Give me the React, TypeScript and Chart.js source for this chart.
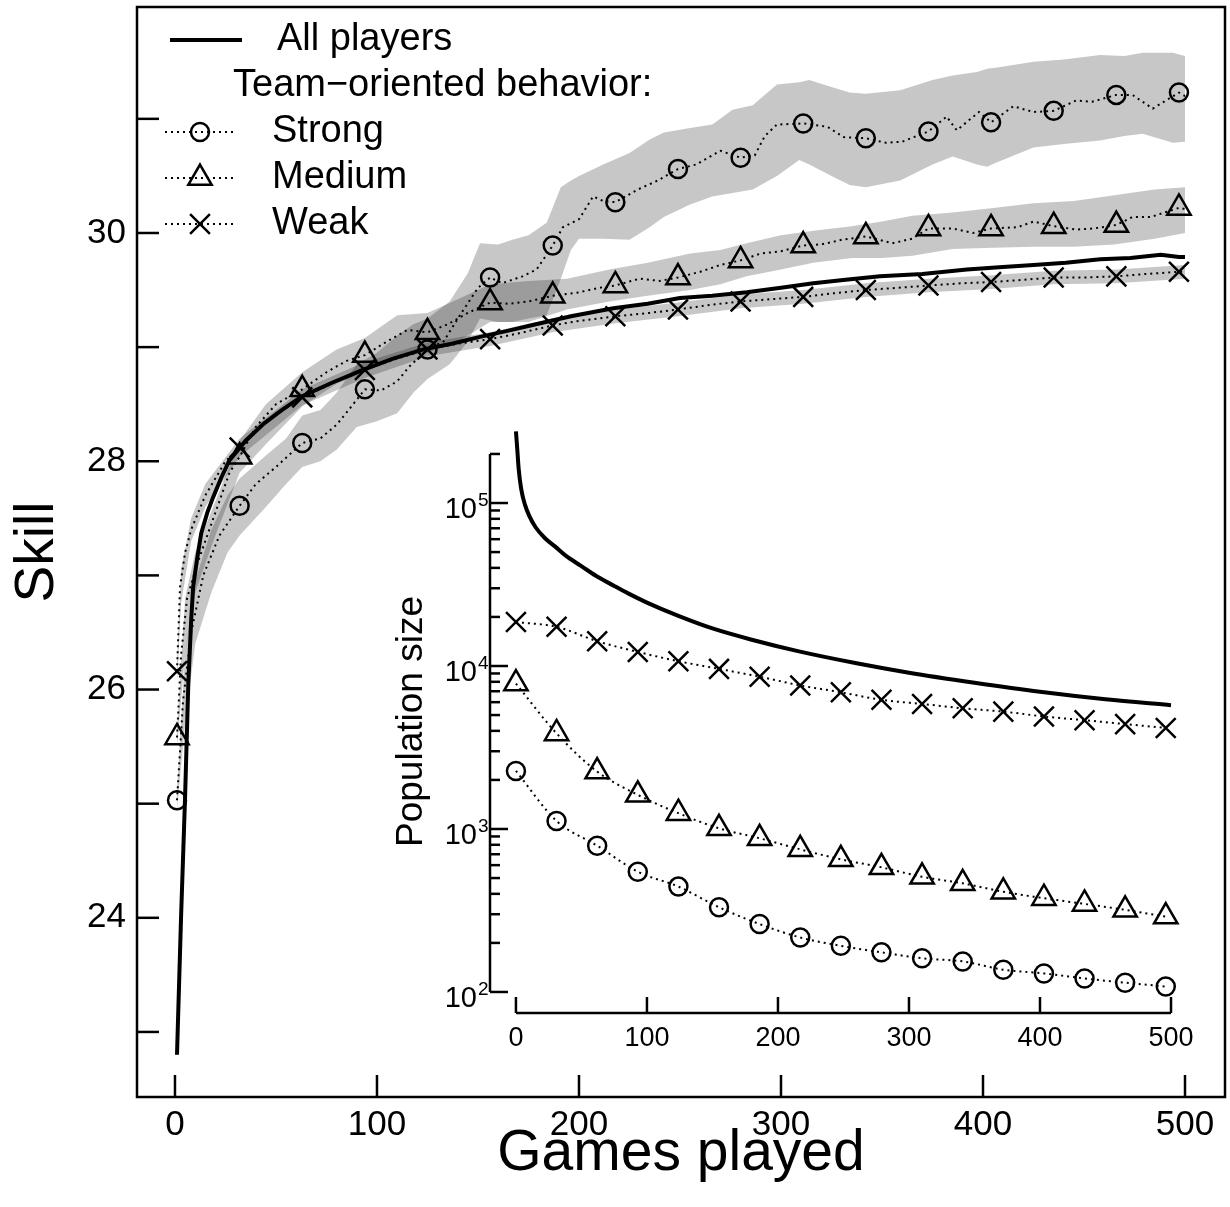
import React, { useEffect, useRef } from 'react';
import { Chart, registerables } from 'chart.js';

Chart.register(...registerables);

const FONT = '"Liberation Sans", Arial, Helvetica, sans-serif';
const BAND = 'rgba(0,0,0,0.22)';

// ---------------- main chart data ----------------
const mainXTicks = [0, 100, 200, 300, 400, 500];
const mainYTickMarks = [23, 24, 25, 26, 27, 28, 29, 30, 31];

const markerGames = [1, 32, 63, 94, 125, 156, 187, 218, 249, 280, 311, 342, 373, 404, 435, 466, 497];
const strongMarkers = [25.03, 27.61, 28.16, 28.63, 28.98, 29.61, 29.89, 30.27, 30.56, 30.66, 30.96, 30.83, 30.89, 30.97, 31.07, 31.21, 31.23];
const mediumMarkers = [25.58, 28.04, 28.63, 28.93, 29.13, 29.39, 29.45, 29.54, 29.61, 29.76, 29.89, 29.97, 30.04, 30.04, 30.06, 30.07, 30.22];
const weakMarkers = [26.16, 28.12, 28.56, 28.80, 28.98, 29.07, 29.19, 29.27, 29.33, 29.40, 29.44, 29.50, 29.54, 29.57, 29.61, 29.62, 29.66];

const allGames = [1, 3, 5, 6.6, 8, 9, 11, 13, 16, 19, 23, 27, 35, 44, 53, 63, 78, 93, 108, 123, 137, 151, 164, 176, 196, 217, 234, 250, 266, 283, 300, 316, 332, 349, 370, 392, 408, 425, 441, 458, 473, 488, 497, 500];
const allSkill = [22.8, 24.0, 25.06, 26.05, 26.6, 26.9, 27.15, 27.37, 27.55, 27.69, 27.86, 28.01, 28.18, 28.33, 28.45, 28.57, 28.69, 28.80, 28.90, 28.98, 29.03, 29.09, 29.14, 29.19, 29.27, 29.34, 29.38, 29.43, 29.45, 29.48, 29.52, 29.56, 29.59, 29.62, 29.64, 29.68, 29.70, 29.72, 29.74, 29.77, 29.78, 29.81, 29.79, 29.79];

const strongGames = [1, 4, 8, 14, 22, 32, 40, 50, 63, 72, 80, 86, 94, 102, 110, 116, 125, 133, 140, 150, 156, 162, 172, 179, 187, 192, 200, 207, 212, 218, 229, 239, 249, 258, 270, 280, 287, 292, 298, 311, 323, 331, 342, 352, 360, 373, 382, 387, 398, 404, 415, 425, 435, 446, 454, 466, 474, 484, 497, 500];
const strongSkill = [25.03, 25.9, 26.5, 27.0, 27.35, 27.61, 27.8, 27.95, 28.16, 28.2, 28.32, 28.45, 28.63, 28.62, 28.7, 28.83, 28.98, 29.05, 29.25, 29.52, 29.61, 29.56, 29.62, 29.68, 29.89, 30.05, 30.12, 30.32, 30.28, 30.27, 30.38, 30.46, 30.56, 30.6, 30.72, 30.66, 30.68, 30.85, 30.95, 30.96, 30.93, 30.84, 30.83, 30.79, 30.80, 30.89, 31.02, 30.9, 31.06, 30.97, 31.11, 31.06, 31.07, 31.16, 31.15, 31.21, 31.21, 31.09, 31.23, 31.2];

const mediumGames = [1, 3, 6, 11, 19, 27, 32, 40, 50, 63, 75, 85, 94, 105, 115, 125, 135, 145, 156, 165, 175, 187, 200, 210, 218, 230, 240, 249, 260, 270, 280, 290, 300, 311, 320, 330, 342, 355, 365, 373, 385, 395, 404, 417, 425, 435, 446, 455, 466, 474, 483, 497, 500];
const mediumSkill = [25.58, 26.3, 26.8, 27.1, 27.5, 27.9, 28.04, 28.3, 28.5, 28.63, 28.78, 28.88, 28.93, 29.05, 29.15, 29.13, 29.2, 29.3, 29.39, 29.38, 29.4, 29.45, 29.48, 29.52, 29.54, 29.6, 29.58, 29.61, 29.66, 29.72, 29.76, 29.82, 29.84, 29.89, 29.9, 29.94, 29.97, 29.91, 29.95, 30.04, 30.04, 30.0, 30.04, 30.05, 30.1, 30.06, 30.03, 30.04, 30.07, 30.14, 30.14, 30.22, 30.21];

const weakGames = [1, 2.5, 5, 8, 15, 25, 32, 45, 63, 80, 94, 110, 125, 140, 156, 170, 187, 200, 218, 235, 249, 265, 280, 295, 311, 325, 342, 358, 373, 390, 404, 420, 435, 450, 466, 480, 497, 500];
const weakSkill = [26.16, 26.9, 27.2, 27.4, 27.7, 28.0, 28.12, 28.35, 28.56, 28.7, 28.80, 28.9, 28.98, 29.03, 29.07, 29.12, 29.19, 29.23, 29.27, 29.3, 29.33, 29.37, 29.40, 29.42, 29.44, 29.47, 29.50, 29.52, 29.54, 29.56, 29.57, 29.59, 29.61, 29.61, 29.62, 29.64, 29.66, 29.66];

const strongBandGames = [1, 5, 10, 18, 26, 32, 45, 55, 63, 72, 80, 90, 100, 110, 118, 125, 136, 145, 151, 160, 167, 175, 184, 191, 196, 200, 212, 225, 235, 242, 255, 266, 276, 286, 298, 309, 314, 325, 334, 342, 359, 375, 385, 397, 402, 407, 425, 440, 458, 470, 479, 494, 500];
const strongBandUpper = [25.12, 26.3, 26.95, 27.4, 27.7, 27.85, 28.05, 28.2, 28.4, 28.45, 28.6, 28.85, 28.95, 29.1, 29.2, 29.25, 29.4, 29.65, 29.91, 29.9, 29.94, 29.98, 30.09, 30.40, 30.46, 30.5, 30.6, 30.7, 30.82, 30.88, 30.92, 30.95, 31.08, 31.12, 31.30, 31.32, 31.34, 31.28, 31.23, 31.22, 31.25, 31.34, 31.38, 31.41, 31.44, 31.45, 31.50, 31.52, 31.56, 31.55, 31.58, 31.58, 31.55];
const strongBandLower = [24.95, 25.7, 26.4, 26.85, 27.2, 27.35, 27.6, 27.8, 27.95, 28.0, 28.1, 28.3, 28.35, 28.42, 28.6, 28.72, 28.85, 29.05, 29.25, 29.22, 29.22, 29.25, 29.28, 29.6, 29.85, 29.95, 29.95, 29.94, 30.05, 30.14, 30.25, 30.32, 30.35, 30.38, 30.5, 30.64, 30.6, 30.5, 30.42, 30.40, 30.46, 30.6, 30.67, 30.6, 30.58, 30.62, 30.75, 30.78, 30.81, 30.85, 30.87, 30.79, 30.8];

const mediumBandGames = [1, 5, 10, 20, 32, 45, 63, 80, 94, 110, 125, 140, 156, 175, 194, 215, 234, 255, 270, 283, 300, 316, 335, 350, 365, 385, 405, 425, 445, 465, 485, 500];
const mediumBandUpper = [25.65, 26.8, 27.2, 27.65, 28.18, 28.5, 28.78, 28.98, 29.08, 29.28, 29.3, 29.42, 29.55, 29.58, 29.6, 29.68, 29.74, 29.82, 29.85, 29.91, 29.98, 30.02, 30.06, 30.1, 30.15, 30.18, 30.22, 30.26, 30.28, 30.33, 30.38, 30.4];
const mediumBandLower = [25.5, 26.3, 26.85, 27.35, 27.9, 28.15, 28.48, 28.68, 28.78, 28.92, 28.95, 29.05, 29.22, 29.22, 29.33, 29.4, 29.45, 29.5, 29.55, 29.62, 29.68, 29.74, 29.78, 29.78, 29.8, 29.86, 29.87, 29.88, 29.88, 29.9, 29.95, 30.0];

const weakBandGames = [1, 3, 8, 15, 32, 63, 94, 125, 156, 187, 218, 249, 280, 311, 342, 373, 404, 435, 466, 500];
const weakBandUpper = [26.25, 27.05, 27.5, 27.8, 28.2, 28.63, 28.87, 29.04, 29.13, 29.25, 29.33, 29.39, 29.46, 29.5, 29.56, 29.6, 29.63, 29.67, 29.68, 29.72];
const weakBandLower = [26.05, 26.75, 27.3, 27.6, 28.04, 28.49, 28.73, 28.92, 29.01, 29.13, 29.21, 29.27, 29.34, 29.38, 29.44, 29.48, 29.51, 29.55, 29.56, 29.6];

// ---------------- inset data ----------------
const insetXTicks = [0, 100, 200, 300, 400, 500];
const insetDecades = [100, 1000, 10000, 100000];
const insetYAxisRange = [100, 200000];
const popGames = [0, 31, 62, 93, 124, 155, 186, 217, 248, 279, 310, 341, 372, 403, 434, 465, 496];
const strongPop = [2270, 1120, 790, 547, 443, 331, 261, 216, 192, 175, 161, 154, 137, 130, 121, 114, 108];
const mediumPop = [7800, 3860, 2250, 1620, 1250, 1010, 877, 750, 651, 582, 509, 464, 412, 376, 347, 319, 290];
const weakPop = [18600, 17400, 14200, 12200, 10700, 9600, 8600, 7600, 6900, 6200, 5850, 5500, 5250, 4900, 4650, 4400, 4170];
const allPopGames = [0, 1, 2, 4, 7, 10, 15, 22, 30, 38, 50, 61, 75, 86, 100, 124, 150, 180, 216, 260, 300, 350, 400, 450, 500];
const allPop = [275000, 215000, 165000, 122000, 97000, 84000, 71000, 61000, 54000, 47500, 41000, 35800, 31000, 27800, 24500, 20300, 17000, 14500, 12300, 10400, 9100, 7900, 6950, 6250, 5750];

const legendTitle = 'Team\u2212oriented behavior:';

const pts = (xs: number[], ys: number[]) => xs.map((x, i) => ({ x, y: ys[i] }));

function drawMarker(ctx: CanvasRenderingContext2D, style: string, x: number, y: number, r: number) {
  ctx.beginPath();
  if (style === 'circle') {
    ctx.arc(x, y, r, 0, Math.PI * 2);
  } else if (style === 'triangle') {
    for (let k = 0; k < 3; k++) {
      const a = (k * 2 * Math.PI) / 3;
      const px = x + Math.sin(a) * r;
      const py = y - Math.cos(a) * r;
      if (k === 0) ctx.moveTo(px, py);
      else ctx.lineTo(px, py);
    }
    ctx.closePath();
  } else {
    const o = Math.cos(Math.PI / 4) * r;
    ctx.moveTo(x - o, y - o);
    ctx.lineTo(x + o, y + o);
    ctx.moveTo(x + o, y - o);
    ctx.lineTo(x - o, y + o);
  }
  ctx.stroke();
}

function seg(ctx: CanvasRenderingContext2D, x1: number, y1: number, x2: number, y2: number) {
  ctx.beginPath();
  ctx.moveTo(x1, y1);
  ctx.lineTo(x2, y2);
  ctx.stroke();
}

const mainDecor = {
  id: 'mainDecor',
  afterDatasetsDraw(chart: any) {
    const { ctx, chartArea: a, scales } = chart;
    ctx.save();
    ctx.strokeStyle = '#000';
    ctx.lineWidth = 2.5;
    ctx.setLineDash([]);
    ctx.strokeRect(a.left, a.top, a.right - a.left, a.bottom - a.top);
    mainXTicks.forEach((v) => {
      const p = scales.x.getPixelForValue(v);
      seg(ctx, p, a.bottom, p, a.bottom - 22);
    });
    mainYTickMarks.forEach((v) => {
      const p = scales.y.getPixelForValue(v);
      seg(ctx, a.left, p, a.left + 22, p);
    });

    // legend
    const rows = [40, 86, 132, 178, 224];
    ctx.fillStyle = '#000';
    ctx.font = `38px ${FONT}`;
    ctx.textBaseline = 'middle';
    ctx.textAlign = 'left';
    ctx.lineWidth = 4;
    seg(ctx, 170, rows[0], 242, rows[0]);
    ctx.fillText('All players', 277, rows[0]);
    ctx.fillText(legendTitle, 233, rows[1]);
    const items: [string, string, number][] = [
      ['Strong', 'circle', 9],
      ['Medium', 'triangle', 13.5],
      ['Weak', 'crossRot', 14],
    ];
    items.forEach(([label, style, r], i) => {
      const y = rows[i + 2];
      ctx.lineWidth = 2;
      ctx.setLineDash([2, 4]);
      seg(ctx, 165, y, 236, y);
      ctx.setLineDash([]);
      ctx.lineWidth = 2.5;
      drawMarker(ctx, style, 200, y, r);
      ctx.fillText(label, 272, y);
    });
    ctx.restore();
  },
};

const insetDecor = {
  id: 'insetDecor',
  afterDatasetsDraw(chart: any) {
    const { ctx, chartArea: a, scales } = chart;
    const xs = scales.x;
    const ys = scales.y;
    ctx.save();
    ctx.strokeStyle = '#000';
    ctx.fillStyle = '#000';
    ctx.lineWidth = 2.5;
    ctx.setLineDash([]);
    // range-frame axes
    seg(ctx, a.left, ys.getPixelForValue(insetYAxisRange[1]), a.left, ys.getPixelForValue(insetYAxisRange[0]));
    seg(ctx, xs.getPixelForValue(insetXTicks[0]), a.bottom, xs.getPixelForValue(insetXTicks[insetXTicks.length - 1]), a.bottom);
    insetXTicks.forEach((v) => {
      const p = xs.getPixelForValue(v);
      seg(ctx, p, a.bottom, p, a.bottom - 16);
    });
    // y ticks: majors and minors
    insetDecades.forEach((d) => {
      for (let m = 1; m <= 9; m++) {
        const v = d * m;
        if (v > insetYAxisRange[1]) break;
        const p = ys.getPixelForValue(v);
        seg(ctx, a.left, p, a.left + (m === 1 ? 18 : 10), p);
      }
    });
    // y labels 10^n
    insetDecades.forEach((d) => {
      const p = ys.getPixelForValue(d);
      const exp = String(Math.round(Math.log10(d)));
      ctx.font = `29px ${FONT}`;
      ctx.textAlign = 'right';
      ctx.textBaseline = 'alphabetic';
      ctx.fillText('10', a.left - 13, p + 15);
      ctx.font = `19px ${FONT}`;
      ctx.textAlign = 'left';
      ctx.fillText(exp, a.left - 12, p + 3);
    });
    ctx.restore();
  },
};

const dotted = { borderColor: '#000', borderWidth: 2, borderDash: [2, 4], pointRadius: 0, fill: false, tension: 0 };
const markerBase = { showLine: false, pointBorderColor: '#000', pointBackgroundColor: 'rgba(0,0,0,0)', pointBorderWidth: 2.5 };
const bandUpper = { fill: '+1', backgroundColor: BAND, borderWidth: 0, pointRadius: 0, tension: 0, order: 100 };
const bandLower = { fill: false, borderWidth: 0, pointRadius: 0, tension: 0, order: 100 };

export default function App() {
  const mainRef = useRef<HTMLCanvasElement>(null);
  const insetRef = useRef<HTMLCanvasElement>(null);

  useEffect(() => {
    Chart.defaults.font.family = FONT;
    Chart.defaults.color = '#000';

    const main = new Chart(mainRef.current as HTMLCanvasElement, {
      type: 'line',
      data: {
        datasets: [
          { ...bandUpper, label: 'strongU', data: pts(strongBandGames, strongBandUpper) },
          { ...bandLower, label: 'strongL', data: pts(strongBandGames, strongBandLower) },
          { ...bandUpper, label: 'mediumU', data: pts(mediumBandGames, mediumBandUpper) },
          { ...bandLower, label: 'mediumL', data: pts(mediumBandGames, mediumBandLower) },
          { ...bandUpper, label: 'weakU', data: pts(weakBandGames, weakBandUpper) },
          { ...bandLower, label: 'weakL', data: pts(weakBandGames, weakBandLower) },
          { label: 'All players', data: pts(allGames, allSkill), borderColor: '#000', borderWidth: 4, pointRadius: 0, fill: false, tension: 0, order: 10 },
          { ...dotted, label: 'Strong line', data: pts(strongGames, strongSkill), order: 20 },
          { ...dotted, label: 'Medium line', data: pts(mediumGames, mediumSkill), order: 20 },
          { ...dotted, label: 'Weak line', data: pts(weakGames, weakSkill), order: 20 },
          { ...markerBase, label: 'Strong', data: pts(markerGames, strongMarkers), pointStyle: 'circle', pointRadius: 9, order: 0 },
          { ...markerBase, label: 'Medium', data: pts(markerGames, mediumMarkers), pointStyle: 'triangle', pointRadius: 13.5, order: 0 },
          { ...markerBase, label: 'Weak', data: pts(markerGames, weakMarkers), pointStyle: 'crossRot', pointRadius: 14, order: 0 },
        ] as any,
      },
      options: {
        animation: false,
        responsive: false,
        events: [],
        layout: { autoPadding: false, padding: { left: 0, right: 5, top: 7, bottom: 0 } },
        plugins: { legend: { display: false }, tooltip: { enabled: false } },
        scales: {
          x: {
            type: 'linear',
            min: -18.8,
            max: 519.8,
            grid: { display: false, drawTicks: false },
            border: { display: false },
            ticks: { stepSize: 100, includeBounds: false, autoSkip: false, maxRotation: 0, font: { size: 35, family: FONT }, color: '#000', padding: 7 },
            title: { display: true, text: 'Games played', color: '#000', font: { size: 57, family: FONT }, padding: { top: 0, bottom: 19 } },
            afterFit: (s: any) => { s.height = 110; s.paddingLeft = 0; s.paddingRight = 0; },
          },
          y: {
            type: 'linear',
            min: 22.43,
            max: 31.98,
            grid: { display: false, drawTicks: false },
            border: { display: false },
            ticks: {
              stepSize: 1,
              includeBounds: false,
              autoSkip: false,
              font: { size: 35, family: FONT },
              color: '#000',
              padding: 11,
              callback: (v: any) => (Number(v) % 2 === 0 ? String(v) : ''),
            },
            title: { display: true, text: 'Skill', color: '#000', font: { size: 55, family: FONT }, padding: { top: 4.5, bottom: 0 } },
            afterFit: (s: any) => { s.width = 137; s.paddingTop = 0; s.paddingBottom = 0; },
          },
        },
      } as any,
      plugins: [mainDecor],
    });

    const inset = new Chart(insetRef.current as HTMLCanvasElement, {
      type: 'line',
      data: {
        datasets: [
          { label: 'All players', data: pts(allPopGames, allPop), borderColor: '#000', borderWidth: 4, pointRadius: 0, fill: false, cubicInterpolationMode: 'monotone', order: 10 },
          { ...dotted, label: 'Strong line', data: pts(popGames, strongPop), cubicInterpolationMode: 'monotone', order: 20 },
          { ...dotted, label: 'Medium line', data: pts(popGames, mediumPop), cubicInterpolationMode: 'monotone', order: 20 },
          { ...dotted, label: 'Weak line', data: pts(popGames, weakPop), cubicInterpolationMode: 'monotone', order: 20 },
          { ...markerBase, label: 'Strong', data: pts(popGames, strongPop), pointStyle: 'circle', pointRadius: 9, order: 0 },
          { ...markerBase, label: 'Medium', data: pts(popGames, mediumPop), pointStyle: 'triangle', pointRadius: 13.5, order: 0 },
          { ...markerBase, label: 'Weak', data: pts(popGames, weakPop), pointStyle: 'crossRot', pointRadius: 14, order: 0 },
        ] as any,
      },
      options: {
        animation: false,
        responsive: false,
        events: [],
        layout: { autoPadding: false, padding: { left: 0, right: 20, top: 15, bottom: 0 } },
        plugins: { legend: { display: false }, tooltip: { enabled: false } },
        scales: {
          x: {
            type: 'linear',
            min: -19.8,
            max: 514.5,
            grid: { display: false, drawTicks: false },
            border: { display: false },
            ticks: { stepSize: 100, includeBounds: false, autoSkip: false, maxRotation: 0, font: { size: 27, family: FONT }, color: '#000', padding: 9 },
            afterFit: (s: any) => { s.height = 72; s.paddingLeft = 0; s.paddingRight = 0; },
          },
          y: {
            type: 'logarithmic',
            min: Math.pow(10, 1.871),
            max: Math.pow(10, 5.448),
            grid: { display: false, drawTicks: false },
            border: { display: false },
            ticks: { display: false },
            title: { display: true, text: 'Population size', color: '#000', font: { size: 37, family: FONT }, padding: { top: 20, bottom: 0 } },
            afterFit: (s: any) => { s.width = 120; s.paddingTop = 0; s.paddingBottom = 0; },
          },
        },
      } as any,
      plugins: [insetDecor],
    });

    return () => {
      main.destroy();
      inset.destroy();
    };
  }, []);

  return (
    <div style={{ position: 'absolute', left: 0, top: 0, width: 1230, height: 1207, background: '#fff', overflow: 'hidden' }}>
      <canvas ref={mainRef} width={1230} height={1207} style={{ position: 'absolute', left: 0, top: 0 }} />
      <canvas ref={insetRef} width={840} height={670} style={{ position: 'absolute', left: 370, top: 415 }} />
    </div>
  );
}
